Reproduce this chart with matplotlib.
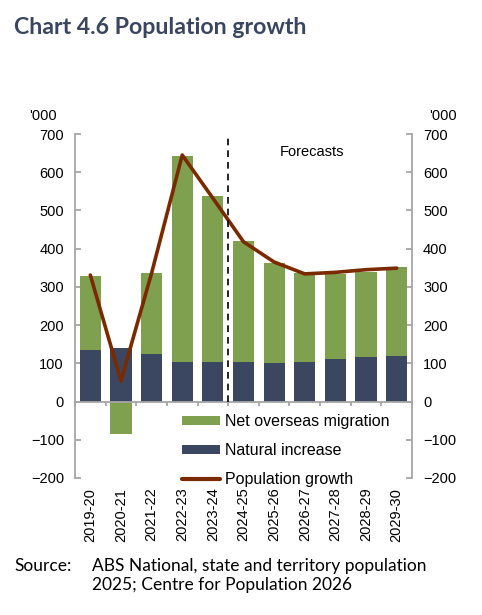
import numpy as np
import matplotlib as mpl
from matplotlib import pyplot as plt
from matplotlib.patches import Patch
from matplotlib.lines import Line2D

# data ('000 persons)
years = ['2019-20', '2020-21', '2021-22', '2022-23', '2023-24', '2024-25',
         '2025-26', '2026-27', '2027-28', '2028-29', '2029-30']
natural_increase = [135, 140, 125, 104, 104, 104, 101, 104, 111, 116, 120]
net_overseas = [194, -85, 211, 539, 434, 316, 262, 232, 224, 224, 232]
pop_growth = [331, 54, 336, 645, 532, 418, 365, 334, 338, 345, 349]
forecast_start = 5  # first forecast year index

green = '#7FA04F'
navy = '#3B4660'
brown = '#7B2A00'
grey = '#A6A6A6'

plt.rcParams['font.family'] = ['Liberation Sans', 'DejaVu Sans']

fig = plt.figure(figsize=(4.82, 6.15), dpi=100)
ax = fig.add_axes([0.1556, 0.2228, 0.6992, 0.5593])

x = np.arange(len(years))
ax.bar(x, natural_increase, width=0.69, color=navy, zorder=2)
nom = np.array(net_overseas)
base = np.where(nom >= 0, np.array(natural_increase), 0)
ax.bar(x, nom, width=0.69, bottom=base, color=green, zorder=2)
ax.plot(x, pop_growth, color=brown, lw=2.6, zorder=3, solid_capstyle='round')

ax.axvline(forecast_start - 0.5, ymin=2/9, ymax=1, color='black', lw=1.2,
           ls=(0, (4, 3)), zorder=4)
ax.text(forecast_start + 2.25, 653, 'Forecasts', fontsize=10.5, va='center', ha='center')

ax.set_xlim(-0.5, len(years) - 0.5)
ax.set_ylim(-200, 700)
ax.set_yticks(range(-200, 701, 100))

# spines
ax.spines['top'].set_visible(False)
ax.spines['bottom'].set_position(('data', 0))
for s in ['left', 'right', 'bottom']:
    ax.spines[s].set_color(grey)
    ax.spines[s].set_linewidth(1.3)
ax.tick_params(axis='y', which='both', direction='in', length=4, color=grey,
               width=1.3, labelsize=10.5, pad=8, left=True, right=True,
               labelleft=True, labelright=True)

ax.set_xticks(np.arange(len(years) + 1) - 0.5)
ax.tick_params(axis='x', direction='out', length=3, color=grey, width=1.3,
               labelbottom=False)

sec = ax.secondary_xaxis('bottom')
sec.set_xticks(x)
sec.set_xticklabels(years, rotation=90, fontsize=10.5)
sec.tick_params(length=0, pad=7)
sec.spines['bottom'].set_visible(False)

fig.text(43 / 482, 1 - 116 / 615, "'000", fontsize=10.5, ha='center', va='center')
fig.text(443 / 482, 1 - 116 / 615, "'000", fontsize=10.5, ha='center', va='center')

handles = [Patch(facecolor=green), Patch(facecolor=navy),
           Line2D([], [], color=brown, lw=3, solid_capstyle='round')]
labels = ['Net overseas migration', 'Natural increase', 'Population growth']
leg = ax.legend(handles, labels, loc='center left', bbox_to_anchor=(0.3175, 0.079),
                frameon=False, fontsize=11.5, handlelength=2.4, handleheight=0.44,
                handletextpad=0.3, labelspacing=0.87, borderaxespad=0, borderpad=0)

fig.text(14 / 482, 1 - 28 / 615, 'Chart 4.6 Population growth', fontsize=16.7,
         fontweight='bold', color='#3A4660', family='Lato', va='center')
fig.text(14 / 482, 1 - 566 / 615, 'Source:', fontsize=12.5, family='Lato', va='center')
fig.text(92 / 482, 1 - 566 / 615, 'ABS National, state and territory population',
         fontsize=12.5, family='Lato', va='center')
fig.text(92 / 482, 1 - 585 / 615, '2025; Centre for Population 2026',
         fontsize=12.5, family='Lato', va='center')

fig.savefig('out.png', dpi=100)
